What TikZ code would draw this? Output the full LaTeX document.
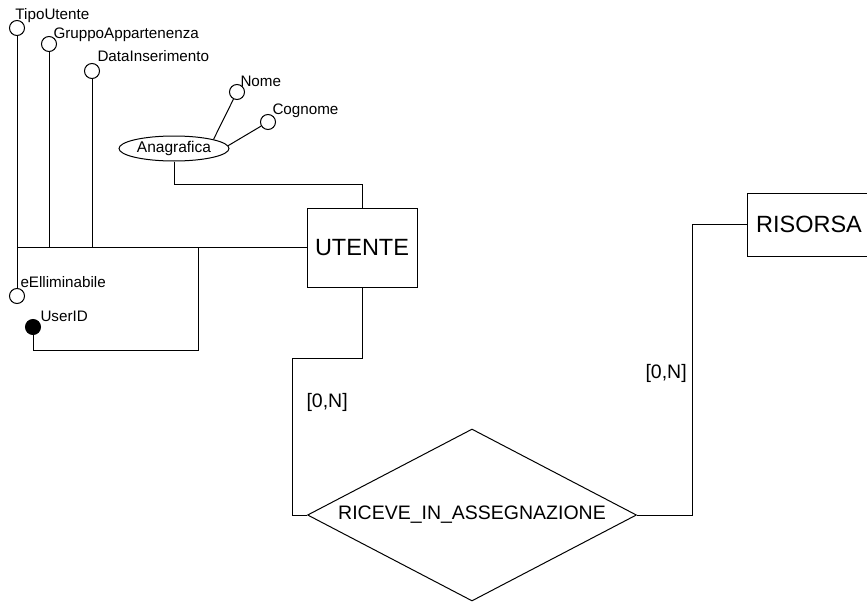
\documentclass[tikz,border=0pt]{standalone}
\usepackage{fontspec}
\setmainfont{Liberation Sans}
\usetikzlibrary{shapes.geometric}

\tikzset{
    attr/.style={draw, circle, fill=white, minimum size=15pt, inner sep=0pt},
    keyattr/.style={attr, fill=black},
    attrtext/.style={anchor=base west, inner sep=0pt, font=\fontsize{15.2}{18}\selectfont},
    entity/.style={draw, rectangle, inner sep=0pt, font=\fontsize{23.5}{28}\selectfont},
    relation/.style={draw, diamond, aspect=1.913, inner sep=0pt, minimum width=329pt, minimum height=172pt,
                     font=\fontsize{19.5}{23}\selectfont},
    card/.style={anchor=west, inner sep=0pt, font=\fontsize{19.5}{23}\selectfont},
}

\begin{document}
\begin{tikzpicture}[x=1pt, y=-1pt, line width=1pt]

    \useasboundingbox (0,0) rectangle (867,602);
    \clip (0,0) rectangle (867,602);      % RISORSA runs off the right edge

    % Entities and relation
    \node[entity, minimum width=110pt, minimum height=79pt] (utente) at (362,247.5) {UTENTE};
    \node[entity, anchor=west, minimum width=123pt, minimum height=63pt] (risorsa) at (747,224.5) {RISORSA};
    \node[relation] (assegna) at (472,515) {RICEVE\_IN\_ASSEGNAZIONE};

    % Composite attribute
    \node[draw, ellipse, minimum width=110pt, minimum height=25pt, inner sep=0pt,
          font=\fontsize{15.5}{18}\selectfont] (anagrafica) at (174,148.5) {Anagrafica};

    % Attribute circles
    \node[attr] (tipo)    at (17,28)  {};
    \node[attr] (gruppo)  at (49,44)  {};
    \node[attr] (data)    at (92,71)  {};
    \node[attr] (nome)    at (237,92) {};
    \node[attr] (cognome) at (268,122) {};
    \node[attr] (elim)    at (17,296) {};
    \node[keyattr] (userid) at (33,327) {};

    % Attribute names, a little above and right of each circle
    \node[attrtext] (tipotxt)    at (15,20)   {TipoUtente};
    \node[attrtext] (gruppotxt)  at (53,39)   {GruppoAppartenenza};
    \node[attrtext] (datatxt)    at (97,62)   {DataInserimento};
    \node[attrtext] (nometxt)    at (240,86)  {Nome};
    \node[attrtext] (cognometxt) at (272,114) {Cognome};
    \node[attrtext] (elimtxt)    at (20,287)  {eElliminabile};
    \node[attrtext] (useridtxt)  at (40,321)  {UserID};

    % Attribute links to UTENTE
    \draw (tipo) -- (elim);
    \draw (gruppo) -- (gruppo |- utente.west);
    \draw (data) -- (data |- utente.west);
    \draw (tipo |- utente.west) -- (data |- utente.west);
    \draw[line width=1.6pt] (data |- utente.west) -- (utente.west);

    \coordinate (split) at (198,247.5);
    \draw (split) -- ++(0,102.5) -| (userid);

    \draw (anagrafica.south) -- ++(0,23) -| (utente.north);
    \draw (anagrafica.13) -- (nome);
    \draw (anagrafica.3) -- (cognome);

    % Relation links
    \coordinate (bendl) at (292,358);
    \coordinate (bendr) at (692,224.5);
    \draw (utente.south) |- (bendl) |- (assegna.west);
    \draw (assegna.east) -| (bendr) -- (risorsa.west);

    % Cardinalities
    \node[card] (cardu) at (306,402) {[0,N]};
    \node[card] (cardr) at (645,373) {[0,N]};

\end{tikzpicture}
\end{document}
